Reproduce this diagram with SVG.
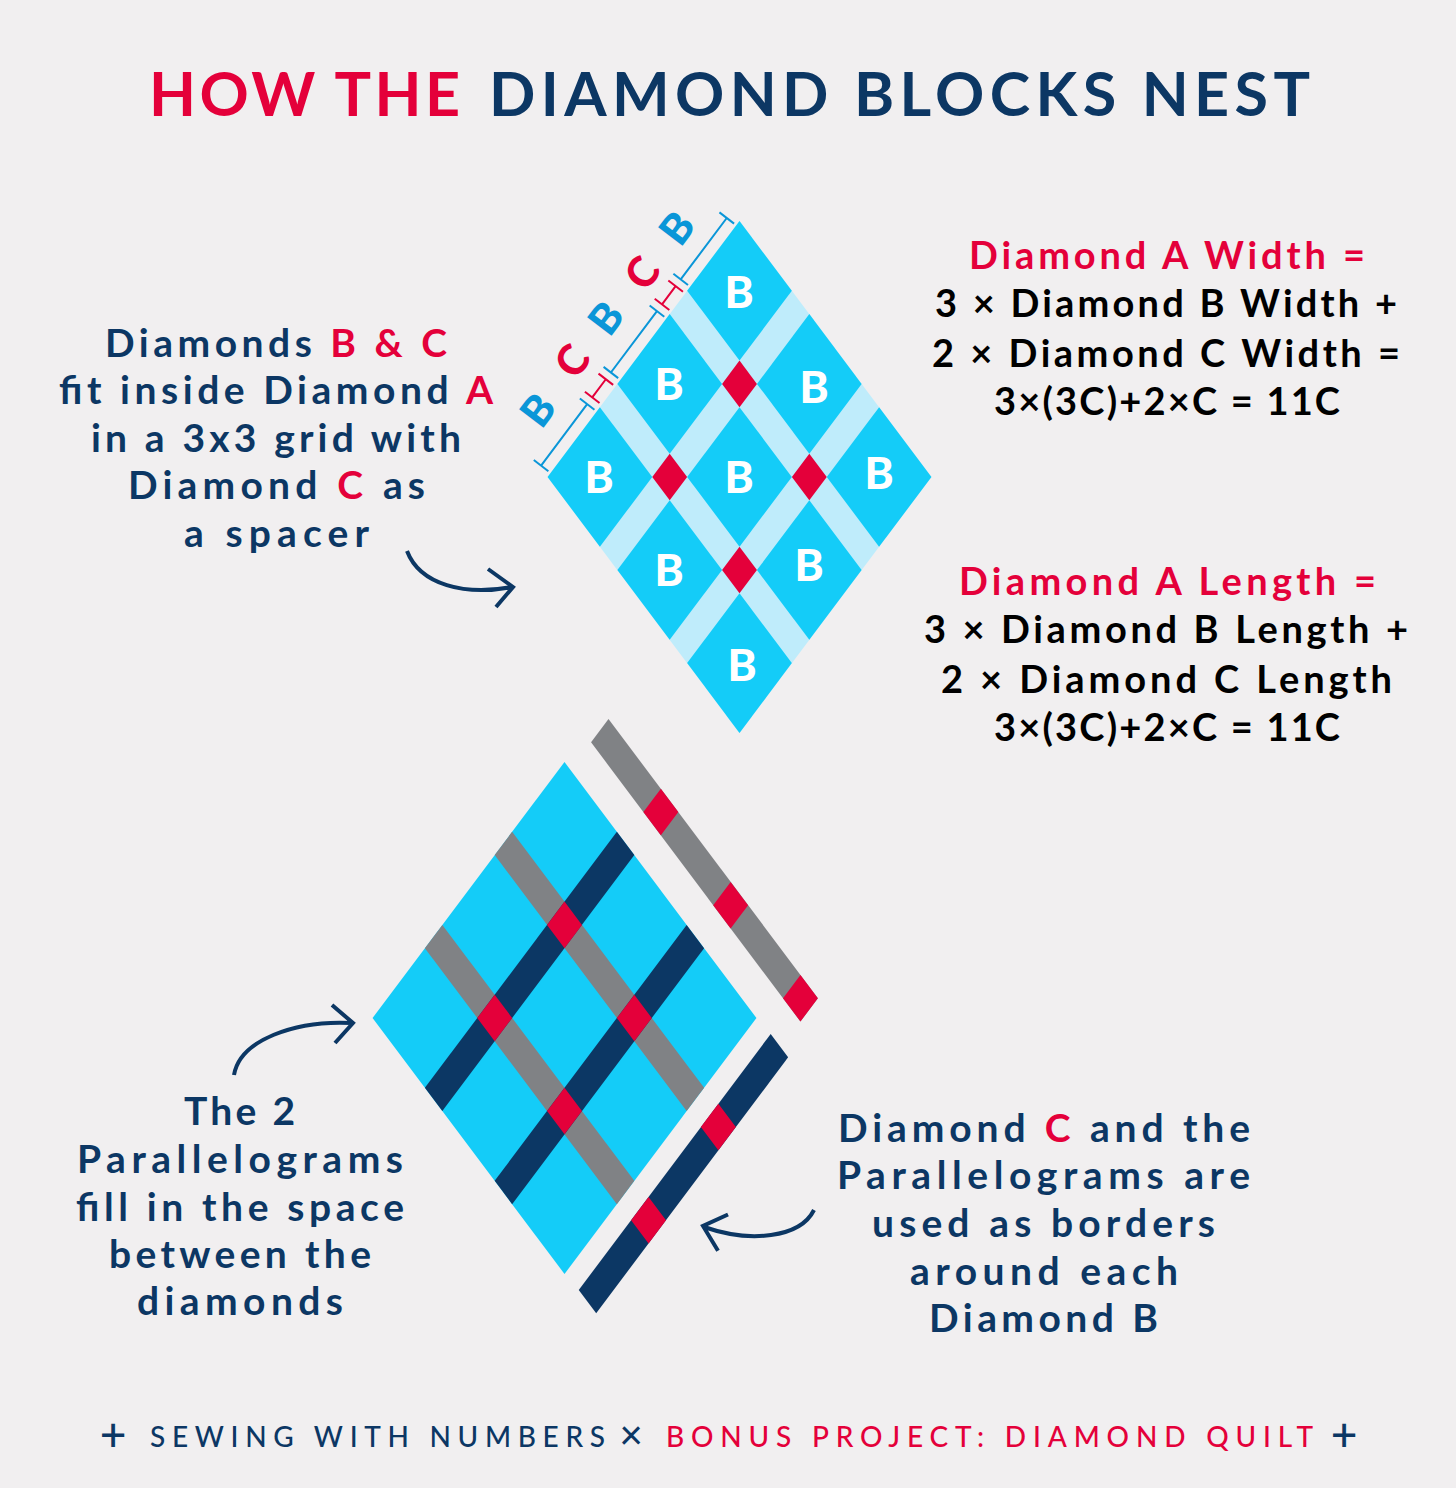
<svg xmlns="http://www.w3.org/2000/svg" width="1456" height="1488" viewBox="0 0 1456 1488">
<style>
text{font-family:"Lato","Liberation Sans",sans-serif}
.title{font-size:61px;font-weight:700}
.lab{font-size:39px;font-weight:700;fill:#0c3764}
.eq{font-size:38px;font-weight:700;fill:#000}
.eq.r{fill:#e4003a}
.r{fill:#e4003a}
.n{fill:#0c3764}
.foot{font-size:28px;font-weight:500}
.mark{font-size:46px;font-weight:500;fill:#0c3764;text-anchor:middle}
.big{font-size:44px;font-weight:900;fill:#fff;text-anchor:middle}
.dim{font-size:42px;font-weight:900;text-anchor:middle}
.cell{fill:#14ccf8}
.red{fill:#e4003a}
.gray{fill:#808285}
.navy{fill:#0c3764}
.arrow{fill:none;stroke:#0c3764;stroke-width:4;stroke-linecap:butt}
.bt{stroke:#0a96d8;stroke-width:2;fill:none}
.rt{stroke:#e4003a;stroke-width:2;fill:none}
</style>
<defs>
<polygon id="c" points="0,0 52.35,69.8 0,139.6 -52.35,69.8"/>
<polygon id="d" points="0,0 17.45,23.27 0,46.54 -17.45,23.27"/>
<line id="t" x1="-7.3" y1="-5.6" x2="7.3" y2="5.6"/>
</defs>
<rect width="1456" height="1488" fill="#f1eff0"/>
<g id="title">
<text class="title r" x="149" y="116" textLength="311">HOW THE</text>
<text class="title n" x="489" y="116" textLength="821">DIAMOND BLOCKS NEST</text>
</g>

<g id="diamond-a">
<polygon points="739.5,221 931.45,477 739.5,733 547.55,477" fill="#bfecfb"/>
<g class="cell">
<use href="#c" x="739.5" y="221"/><use href="#c" x="669.7" y="314.08"/><use href="#c" x="809.3" y="314.08"/>
<use href="#c" x="599.9" y="407.16"/><use href="#c" x="739.5" y="407.16"/><use href="#c" x="879.1" y="407.16"/>
<use href="#c" x="669.7" y="500.24"/><use href="#c" x="809.3" y="500.24"/><use href="#c" x="739.5" y="593.32"/>
</g>
<g class="red">
<use href="#d" x="739.5" y="360.62"/><use href="#d" x="669.7" y="453.7"/><use href="#d" x="809.3" y="453.7"/><use href="#d" x="739.5" y="546.78"/>
</g>
<text class="big" x="739" y="308">B</text><text class="big" x="669" y="400">B</text><text class="big" x="814" y="403">B</text>
<text class="big" x="599" y="493">B</text><text class="big" x="739" y="493">B</text><text class="big" x="879" y="489">B</text>
<text class="big" x="669" y="586">B</text><text class="big" x="809" y="581">B</text><text class="big" x="742" y="681">B</text>
</g>

<g id="dimension-marks">
<g class="bt">
<path d="M726.76 217.99L680.69 279.42M656.96 311.07L610.89 372.5M587.16 404.15L541.09 465.58"/>
<use href="#t" x="726.76" y="217.99"/><use href="#t" x="680.69" y="279.42"/><use href="#t" x="656.96" y="311.07"/><use href="#t" x="610.89" y="372.5"/><use href="#t" x="587.16" y="404.15"/><use href="#t" x="541.09" y="465.58"/>
</g>
<g class="rt">
<path d="M675.63 286.17L662.02 304.32M605.83 379.25L592.22 397.4"/>
<use href="#t" x="675.63" y="286.17"/><use href="#t" x="662.02" y="304.32"/><use href="#t" x="605.83" y="379.25"/><use href="#t" x="592.22" y="397.4"/>
</g>
<text class="dim" fill="#0a96d8" transform="translate(677 228) rotate(-53)" y="15">B</text>
<text class="dim" fill="#e4003a" transform="translate(642 273) rotate(-53)" y="15">C</text>
<text class="dim" fill="#0a96d8" transform="translate(606 318) rotate(-53)" y="15">B</text>
<text class="dim" fill="#e4003a" transform="translate(572 361) rotate(-53)" y="15">C</text>
<text class="dim" fill="#0a96d8" transform="translate(538 410) rotate(-53)" y="15">B</text>
</g>

<g id="diamond-grid">
<polygon class="cell" points="564.5,762 756.45,1018 564.5,1274 372.55,1018"/>
<g class="gray">
<polygon points="512.15,831.81 494.7,855.08 686.65,1111.05 704.1,1087.78"/>
<polygon points="442.35,924.89 424.9,948.16 616.85,1204.13 634.3,1180.86"/>
</g>
<g class="navy">
<polygon points="616.85,831.81 634.3,855.08 442.35,1111.05 424.9,1087.78"/>
<polygon points="686.65,924.89 704.1,948.16 512.15,1204.13 494.7,1180.86"/>
</g>
<g class="red">
<use href="#d" x="564.5" y="901.62"/><use href="#d" x="494.7" y="994.7"/><use href="#d" x="634.3" y="994.7"/><use href="#d" x="564.5" y="1087.78"/>
</g>
</g>

<g id="gray-strip">
<polygon class="gray" points="608.5,719 591.05,742.27 800.45,1021.51 817.9,998.24"/>
<g class="red"><use href="#d" x="660.85" y="788.81"/><use href="#d" x="730.65" y="881.89"/><use href="#d" x="800.45" y="974.97"/></g>
</g>
<g id="navy-strip">
<polygon class="navy" points="770.7,1034 788.15,1057.27 596.2,1313.24 578.75,1289.97"/>
<g class="red"><use href="#d" x="718.35" y="1103.81"/><use href="#d" x="648.55" y="1196.89"/></g>
</g>

<g id="connectors">
<path class="arrow" d="M407 551C420 585 465 596 512 587M488 569L513 587L496 607"/>
<path class="arrow" d="M234 1075C240 1040 295 1020 352 1023M332 1005L353 1023L335 1043"/>
<path class="arrow" d="M814 1210C800 1238 750 1243 704 1227M728 1214.5L703 1226L718 1250.7"/>
</g>

<g id="label-left">
<text class="lab" x="105" y="357" textLength="342">Diamonds <tspan class="r">B &amp; C</tspan></text>
<text class="lab" x="59" y="404" textLength="434">fit inside Diamond <tspan class="r">A</tspan></text>
<text class="lab" x="91" y="452" textLength="370">in a 3x3 grid with</text>
<text class="lab" x="128" y="499" textLength="297">Diamond <tspan class="r">C</tspan> as</text>
<text class="lab" x="184" y="547" textLength="185">a spacer</text>
</g>
<g id="label-width">
<text class="eq r" x="969" y="269" textLength="396">Diamond A Width =</text>
<text class="eq" x="935" y="317" textLength="462">3 × Diamond B Width +</text>
<text class="eq" x="932" y="367" textLength="468">2 × Diamond C Width =</text>
<text class="eq" x="994" y="415" textLength="346">3×(3C)+2×C = 11C</text>
</g>
<g id="label-length">
<text class="eq r" x="959" y="595" textLength="417">Diamond A Length =</text>
<text class="eq" x="924" y="643" textLength="484">3 × Diamond B Length +</text>
<text class="eq" x="941" y="693" textLength="451">2 × Diamond C Length</text>
<text class="eq" x="994" y="741" textLength="346">3×(3C)+2×C = 11C</text>
</g>
<g id="label-parallelograms">
<text class="lab" x="184" y="1125" textLength="111">The 2</text>
<text class="lab" x="77" y="1173" textLength="326">Parallelograms</text>
<text class="lab" x="76" y="1221" textLength="328">fill in the space</text>
<text class="lab" x="109" y="1268" textLength="262">between the</text>
<text class="lab" x="137" y="1315" textLength="206">diamonds</text>
</g>
<g id="label-borders">
<text class="lab" x="838" y="1142" textLength="412">Diamond <tspan class="r">C</tspan> and the</text>
<text class="lab" x="837" y="1189" textLength="413">Parallelograms are</text>
<text class="lab" x="872" y="1237" textLength="343">used as borders</text>
<text class="lab" x="910" y="1285" textLength="268">around each</text>
<text class="lab" x="929" y="1332" textLength="229">Diamond B</text>
</g>
<g id="footer">
<text class="mark" x="113" y="1451">+</text>
<text class="foot n" x="150" y="1447" textLength="455">SEWING WITH NUMBERS</text>
<text class="mark" x="631" y="1449" style="font-size:40px">×</text>
<text class="foot r" x="666" y="1447" textLength="647">BONUS PROJECT: DIAMOND QUILT</text>
<text class="mark" x="1344" y="1451">+</text>
</g>
</svg>
